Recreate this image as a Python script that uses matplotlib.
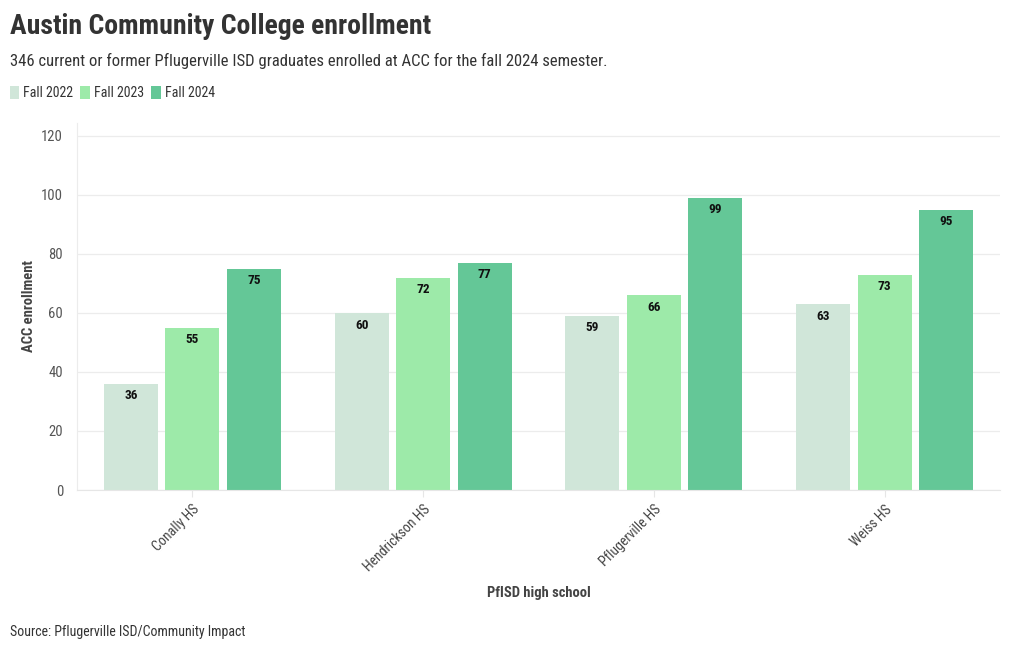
import matplotlib
matplotlib.use("Agg")
import matplotlib.pyplot as plt
from matplotlib.patches import Patch
import numpy as np

plt.rcParams['font.family'] = ['Roboto Condensed', 'Liberation Sans Narrow', 'Roboto', 'DejaVu Sans']

schools = ["Conally HS", "Hendrickson HS", "Pflugerville HS", "Weiss HS"]
series_names = ["Fall 2022", "Fall 2023", "Fall 2024"]
fall_2022 = [36, 60, 59, 63]
fall_2023 = [55, 72, 66, 73]
fall_2024 = [75, 77, 99, 95]
colors = ["#d0e6d9", "#9deaa9", "#64c797"]
yticks = [0, 20, 40, 60, 80, 100, 120]

W, H = 1020, 650
fig = plt.figure(figsize=(W / 100, H / 100), dpi=100)
ax = fig.add_axes([77 / W, 1 - 490 / H, (1000 - 77) / W, (490 - 123) / H])

x = np.arange(len(schools))
bw = 54 / 231
step = 61.5 / 231
for i, (vals, c) in enumerate(zip([fall_2022, fall_2023, fall_2024], colors)):
    pos = x + (i - 1) * step
    bars = ax.bar(pos, vals, width=bw, color=c, zorder=2)
    for b, v in zip(bars, vals):
        ax.annotate(str(v), (b.get_x() + b.get_width() / 2, v), xytext=(0, -4),
                    textcoords="offset points", ha="center", va="top",
                    fontsize=9.5, fontweight="bold", color="#111111", zorder=3)

ax.set_xlim(-0.5, len(schools) - 0.5)
ax.set_ylim(0, 124.4)
ax.set_yticks(yticks)
ax.set_yticklabels([str(t) for t in yticks], fontsize=10.5, color="#555555")
ax.set_xticks(x)
ax.set_xticklabels(schools, rotation=45, ha="right", rotation_mode="anchor",
                   fontsize=10, color="#444444")
ax.tick_params(axis="y", length=0, pad=10)
ax.tick_params(axis="x", length=5, color="#e6e6e6", pad=4)
ax.grid(axis="y", color="#ececec", linewidth=0.9, zorder=0)
for s in ["top", "right"]:
    ax.spines[s].set_visible(False)
ax.spines["left"].set_color("#ececec")
ax.spines["bottom"].set_color("#e6e6e6")
ax.set_ylabel("ACC enrollment", fontsize=10.5, fontweight="bold", color="#444444", labelpad=3.5)
ax.set_xlabel("PfISD high school", fontsize=10.5, fontweight="bold", color="#444444")
ax.xaxis.set_label_coords(0.5, -(586 - 490) / (490 - 123))

fig.text(10 / W, 1 - 27 / H, "Austin Community College enrollment", fontsize=20,
         fontweight="bold", color="#333333", va="center", ha="left")
fig.text(10 / W, 1 - 61 / H, "346 current or former Pflugerville ISD graduates enrolled at ACC for the fall 2024 semester.",
         fontsize=12, color="#333333", va="center", ha="left")
fig.text(10 / W, 1 - 632 / H, "Source: Pflugerville ISD/Community Impact", fontsize=10,
         color="#333333", va="center", ha="left")

handles = [Patch(facecolor=c, edgecolor="none", label=n) for c, n in zip(colors, series_names)]
fig.legend(handles=handles, loc="center left", bbox_to_anchor=(-3 / W, 1 - 93 / H), ncol=3,
           frameon=False, handlelength=0.7, handleheight=1.1, handletextpad=0.3,
           columnspacing=0.5, fontsize=10, labelcolor="#333333")

fig.savefig("out.png", dpi=100, facecolor="white")
